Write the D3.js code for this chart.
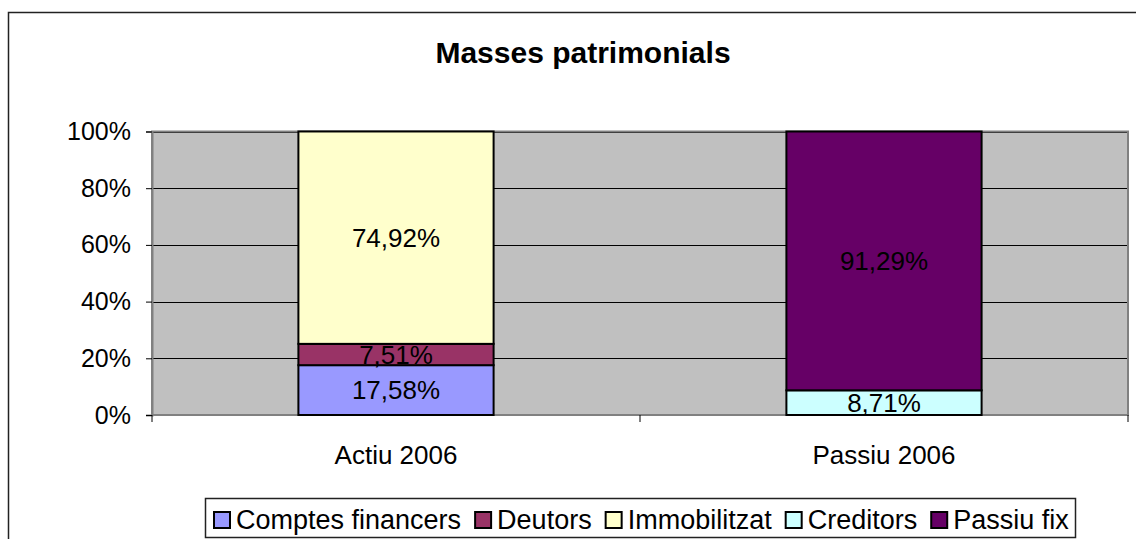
<!DOCTYPE html>
<html>
<head>
<meta charset="utf-8">
<script src="https://cdn.jsdelivr.net/npm/d3@7"></script>
<style>
  body { margin: 0; background: #fff; }
  svg { display: block; }
  text { font-family: "Liberation Sans", Arial, sans-serif; fill: #000; }
</style>
</head>
<body>
<svg id="chart" width="1136" height="539"></svg>
<script>
const categories = ["Actiu 2006", "Passiu 2006"];
const seriesNames = ["Comptes financers", "Deutors", "Immobilitzat", "Creditors", "Passiu fix"];
const seriesColors = ["#9999FF", "#993366", "#FFFFCC", "#CCFFFF", "#660066"];
// percent values per series, one per category
const comptesFinancers = [17.58, 0];
const deutors = [7.51, 0];
const immobilitzat = [74.92, 0];
const creditors = [0, 8.71];
const passiuFix = [0, 91.29];
const yTicks = [0, 20, 40, 60, 80, 100];

const seriesValues = [comptesFinancers, deutors, immobilitzat, creditors, passiuFix];

const svg = d3.select("#chart");

const plot = { left: 152, right: 1128, top: 131.5, bottom: 415 };

// outer chart border (runs off the right and bottom of the picture)
svg.append("rect")
  .attr("x", 8.5).attr("y", 12.5)
  .attr("width", 1140).attr("height", 540)
  .attr("fill", "#fff")
  .attr("stroke", "#222")
  .attr("stroke-width", 1.5);

svg.append("text")
  .attr("x", 583).attr("y", 63)
  .attr("text-anchor", "middle")
  .style("font-size", "30px")
  .style("font-weight", "bold")
  .text("Masses patrimonials");

const x = d3.scaleBand()
  .domain(categories)
  .range([plot.left, plot.right])
  .paddingInner(0)
  .paddingOuter(0);

const y = d3.scaleLinear()
  .domain([0, 100])
  .range([plot.bottom, plot.top]);

// plot background
svg.append("rect")
  .attr("x", plot.left).attr("y", plot.top)
  .attr("width", plot.right - plot.left)
  .attr("height", plot.bottom - plot.top)
  .attr("fill", "#C0C0C0");

// gridlines
svg.append("g")
  .selectAll("line")
  .data(yTicks.filter(d => d > 0))
  .join("line")
  .attr("x1", plot.left).attr("x2", plot.right)
  .attr("y1", d => Math.round(y(d)) + 0.5)
  .attr("y2", d => Math.round(y(d)) + 0.5)
  .attr("stroke", "#000")
  .attr("stroke-width", 1);

// plot area border
svg.append("rect")
  .attr("x", plot.left).attr("y", plot.top)
  .attr("width", plot.right - plot.left)
  .attr("height", plot.bottom - plot.top)
  .attr("fill", "none")
  .attr("stroke", "#808080")
  .attr("stroke-width", 2);

// stacked data
const rows = categories.map((c, i) => {
  const row = { category: c };
  seriesNames.forEach((s, j) => { row[s] = seriesValues[j][i]; });
  return row;
});
const stacked = d3.stack().keys(seriesNames)(rows);

const barWidth = x.bandwidth() / 2.5;

const layers = svg.append("g")
  .selectAll("g")
  .data(stacked)
  .join("g")
  .attr("fill", (d, i) => seriesColors[i]);

layers.selectAll("rect")
  .data(d => d.filter(p => p[1] - p[0] > 0))
  .join("rect")
  .attr("x", d => x(d.data.category) + (x.bandwidth() - barWidth) / 2)
  .attr("y", d => y(d[1]))
  .attr("width", barWidth)
  .attr("height", d => y(d[0]) - y(d[1]))
  .attr("stroke", "#000")
  .attr("stroke-width", 2);

// value labels
const labels = [];
stacked.forEach(layer => {
  layer.forEach(p => {
    const v = p[1] - p[0];
    if (v > 0) labels.push({ cat: p.data.category, mid: (p[0] + p[1]) / 2, v: v });
  });
});
svg.append("g")
  .selectAll("text")
  .data(labels)
  .join("text")
  .attr("x", d => x(d.cat) + x.bandwidth() / 2)
  .attr("y", d => y(d.mid))
  .attr("dy", "0.36em")
  .attr("text-anchor", "middle")
  .style("font-size", "26px")
  .text(d => d.v.toFixed(2).replace(".", ",") + "%");

// y axis
const yAxis = svg.append("g")
  .attr("transform", `translate(${plot.left},0)`)
  .call(d3.axisLeft(y).tickValues(yTicks).tickFormat(d => d + "%").tickSize(6).tickPadding(15));
yAxis.select(".domain").attr("stroke", "#808080").attr("stroke-width", 2);
yAxis.selectAll(".tick line").attr("stroke", "#000");
yAxis.selectAll(".tick text")
  .style("font-size", "25px")
  .style("font-family", "'Liberation Sans', Arial, sans-serif")
  .attr("fill", "#000");

// x axis ticks at category boundaries
svg.append("g")
  .selectAll("line")
  .data(categories.map(c => x(c)).concat([plot.right]))
  .join("line")
  .attr("x1", d => d).attr("x2", d => d)
  .attr("y1", plot.bottom).attr("y2", plot.bottom + 7)
  .attr("stroke", "#000");

svg.append("g")
  .selectAll("text")
  .data(categories)
  .join("text")
  .attr("x", d => x(d) + x.bandwidth() / 2)
  .attr("y", 464)
  .attr("text-anchor", "middle")
  .style("font-size", "26px")
  .text(d => d);

// legend
const legend = svg.append("g");
legend.append("rect")
  .attr("x", 205.5).attr("y", 498.5)
  .attr("width", 870).attr("height", 39)
  .attr("fill", "#fff")
  .attr("stroke", "#222")
  .attr("stroke-width", 1.5);

let lx = 213;
seriesNames.forEach((name, i) => {
  legend.append("rect")
    .attr("x", lx + 1).attr("y", 512)
    .attr("width", 16).attr("height", 16)
    .attr("fill", seriesColors[i])
    .attr("stroke", "#000")
    .attr("stroke-width", 2);
  const t = legend.append("text")
    .attr("x", lx + 23).attr("y", 529)
    .style("font-size", "27px")
    .text(name);
  lx += 23 + t.node().getComputedTextLength() + 13;
});
</script>
</body>
</html>
